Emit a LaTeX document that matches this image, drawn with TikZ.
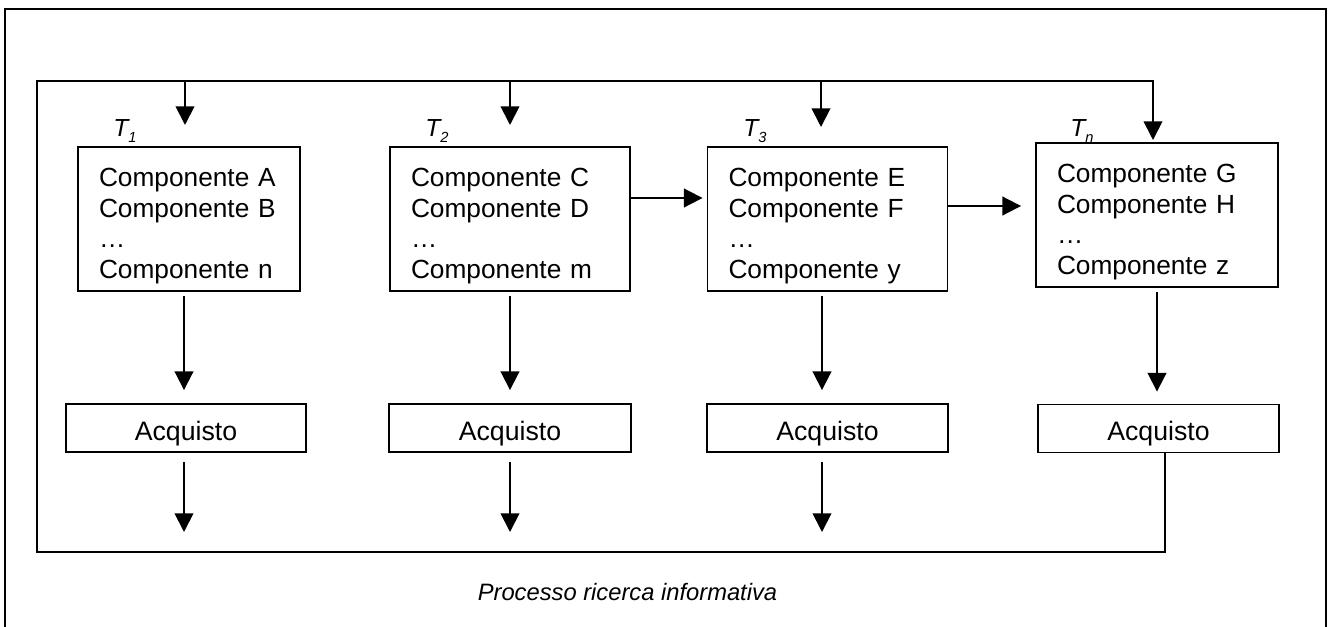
\documentclass[tikz,border=0pt]{standalone}
\usepackage{fontspec}
\setmainfont{Liberation Sans}
\usetikzlibrary{arrows.meta,calc}
\tikzset{
  wire/.style={line width=1.4pt},
  arr/.style={wire,-{Triangle[length=14pt,width=14pt]}},
  compbox/.style={draw,fill=white,line width=1.4pt,align=left,
    inner xsep=15.75pt,inner ysep=0pt,minimum height=108pt,
    text height=29.5pt,text depth=78.5pt,
    font=\fontsize{19.7pt}{23.1pt}\selectfont},
  buybox/.style={draw,fill=white,line width=1.4pt,inner sep=0pt,
    minimum height=36pt,text height=24pt,text depth=6pt,
    font=\fontsize{20pt}{24pt}\selectfont},
  tlabel/.style={anchor=base west,inner sep=0pt,
    font=\fontsize{18.5pt}{20pt}\selectfont\itshape},
}
\newcommand{\sublab}[1]{\raisebox{-4.5pt}{\fontsize{11pt}{12pt}\selectfont #1}}
\begin{document}
\begin{tikzpicture}[x=0.75pt,y=-0.75pt]
\useasboundingbox (0,0) rectangle (1331,627);

% outer frame
\draw[wire] (5,627) -- (5,9) -- (1326,9) -- (1326,627);

% phase labels
\node[tlabel] (t1) at (113,137) {T\sublab{1}};
\node[tlabel] (t2) at (425,137) {T\sublab{2}};
\node[tlabel] (t3) at (743,137) {T\sublab{3}};
\node[tlabel] (t4) at (1070,137) {T\sublab{n}};

% component boxes
\node[compbox,text width=135pt] (b1) at (189,219)
  {Componente A\\Componente B\\…\\Componente n};
\node[compbox,text width=148.5pt] (b2) at (510,219)
  {Componente C\\Componente D\\…\\Componente m};
\node[compbox,text width=148.5pt] (b3) at (827.5,219)
  {Componente E\\Componente F\\…\\Componente y};
\node[compbox,text width=150pt] (b4) at (1157,215)
  {Componente G\\Componente H\\…\\Componente z};

% purchase boxes
\node[buybox,minimum width=180pt] (a1) at (186,428) {Acquisto};
\node[buybox,minimum width=181.5pt] (a2) at (510,428) {Acquisto};
\node[buybox,minimum width=180.75pt] (a3) at (827.5,428) {Acquisto};
\node[buybox,minimum width=180.75pt] (a4) at (1158.5,428.5) {Acquisto};

% feedback loop corners and free arrow ends
\coordinate (lTL) at (37,81);
\coordinate (lTR) at (1153,81);
\coordinate (lBL) at (37,552);
\coordinate (lBR) at (1165,552);
\coordinate (i1) at (185,125);
\coordinate (i2) at (510,125);
\coordinate (i3) at (821,127);
\coordinate (i4) at (1153,140);
\coordinate (o1) at (184,532);
\coordinate (o2) at (510,532);
\coordinate (o3) at (822,532);

% loop from the last purchase back to the top
\draw[arr] (a4.south -| lBR) -- (lBR) -- (lBL) -- (lTL) -- (lTR) -- (i4);

% inputs from the top line
\draw[arr] (lTL -| i1) -- (i1);
\draw[arr] (lTL -| i2) -- (i2);
\draw[arr] (lTL -| i3) -- (i3);

% phase to phase
\draw[arr,shorten >=3pt] ([yshift=15.75pt]b2.east) -- ([yshift=15.75pt]b2.east -| b3.west);
\draw[arr,shorten >=10.5pt] ([yshift=9.75pt]b3.east) -- ([yshift=9.75pt]b3.east -| b4.west);

% components to purchase
\draw[arr,shorten <=3pt,shorten >=9.75pt] (b1.south -| o1) -- (a1.north -| o1);
\draw[arr,shorten <=3pt,shorten >=9.75pt] (b2.south -| o2) -- (a2.north -| o2);
\draw[arr,shorten <=3pt,shorten >=9.75pt] (b3.south -| o3) -- (a3.north -| o3);
\draw[arr,shorten <=3pt,shorten >=9pt] (b4.south) -- (a4.north -| b4.south);

% purchase outputs
\draw[arr,shorten <=6.75pt] (a1.south -| o1) -- (o1);
\draw[arr,shorten <=6.75pt] (a2.south -| o2) -- (o2);
\draw[arr,shorten <=6.75pt] (a3.south -| o3) -- (o3);

% caption
\node[anchor=base,inner sep=0pt,font=\fontsize{17.8pt}{20pt}\selectfont\itshape]
  (cap) at (627.5,600) {Processo ricerca informativa};
\end{tikzpicture}
\end{document}
